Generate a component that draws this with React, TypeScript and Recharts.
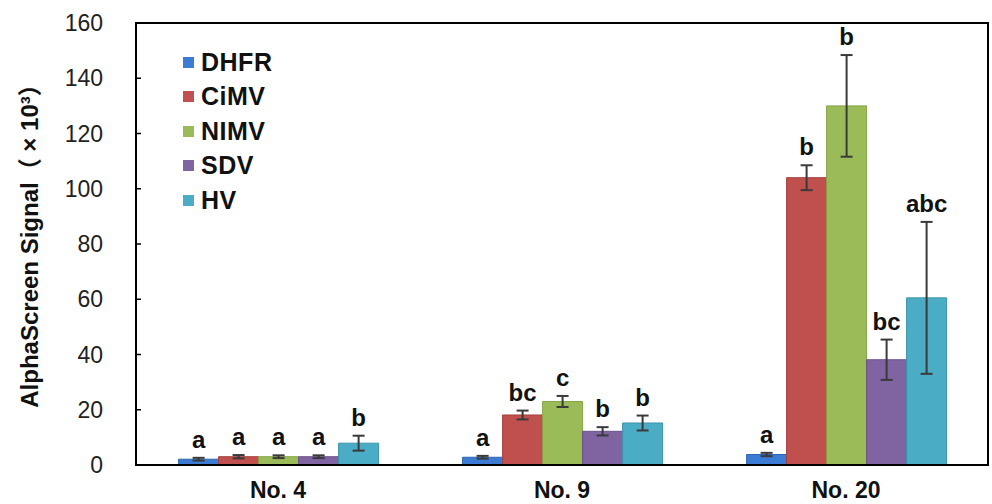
import React from 'react';
import { BarChart, Bar, XAxis, YAxis, ErrorBar, Legend, LabelList, ReferenceArea } from 'recharts';

const categories = ['No. 4', 'No. 9', 'No. 20'];
const seriesNames = ['DHFR', 'CiMV', 'NIMV', 'SDV', 'HV'];

const dhfrValues = [2.1, 2.8, 3.8];
const dhfrErrors = [0.5, 0.5, 0.6];
const dhfrLetters = ['a', 'a', 'a'];

const cimvValues = [3.0, 18.1, 104];
const cimvErrors = [0.6, 1.6, 4.5];
const cimvLetters = ['a', 'bc', 'b'];

const nimvValues = [3.0, 23.0, 130];
const nimvErrors = [0.5, 2.0, 18.4];
const nimvLetters = ['a', 'c', 'b'];

const sdvValues = [3.0, 12.2, 38.1];
const sdvErrors = [0.5, 1.5, 7.3];
const sdvLetters = ['a', 'b', 'bc'];

const hvValues = [7.9, 15.2, 60.5];
const hvErrors = [2.7, 2.7, 27.5];
const hvLetters = ['b', 'b', 'abc'];

const yTicks = [0, 20, 40, 60, 80, 100, 120, 140, 160];

const FONT = '"Liberation Sans", Arial, Helvetica, "Noto Sans CJK SC", sans-serif';

const series = [
  { key: 'dhfr', name: seriesNames[0], values: dhfrValues, errors: dhfrErrors, letters: dhfrLetters, fill: '#3b7bd4', stroke: '#2f64ad' },
  { key: 'cimv', name: seriesNames[1], values: cimvValues, errors: cimvErrors, letters: cimvLetters, fill: '#c0504d', stroke: '#a33f3c' },
  { key: 'nimv', name: seriesNames[2], values: nimvValues, errors: nimvErrors, letters: nimvLetters, fill: '#9bbb59', stroke: '#86a347' },
  { key: 'sdv', name: seriesNames[3], values: sdvValues, errors: sdvErrors, letters: sdvLetters, fill: '#8064a2', stroke: '#6a528a' },
  { key: 'hv', name: seriesNames[4], values: hvValues, errors: hvErrors, letters: hvLetters, fill: '#4bacc6', stroke: '#3a93ab' },
];

const data = categories.map((category, i) => {
  const row: Record<string, any> = { category };
  series.forEach((s) => {
    row[s.key] = s.values[i];
    row[s.key + 'Err'] = s.errors[i];
  });
  return row;
});

const makeLetterLabel = (letters: string[], errors: number[]) => (props: any) => {
  const vb = props.viewBox || {};
  const x = vb.x ?? props.x;
  const y = vb.y ?? props.y;
  const width = vb.width ?? props.width;
  const height = Math.abs(vb.height ?? props.height);
  const value = Number(props.value);
  const index = props.index;
  if (index == null || !value) return null;
  const pxPerUnit = height / value;
  const top = y - errors[index] * pxPerUnit;
  return (
    <text
      x={x + width / 2}
      y={top - 10}
      textAnchor="middle"
      fontFamily={FONT}
      fontWeight="bold"
      fontSize={24}
      fill="#111"
    >
      {letters[index]}
    </text>
  );
};

const YTick = (props: any) => {
  const { x, y, payload } = props;
  return (
    <g>
      <line x1={x} x2={x + 5} y1={y} y2={y} stroke="#000" strokeWidth={1.5} />
      <text x={x - 33} y={y} textAnchor="end" dominantBaseline="central" fontFamily={FONT} fontSize={23} fill="#222">
        {payload.value}
      </text>
    </g>
  );
};

const XTick = (props: any) => {
  const { x, y, payload } = props;
  return (
    <text x={x} y={y} textAnchor="middle" dominantBaseline="central" fontFamily={FONT} fontWeight="bold" fontSize={23} fill="#111">
      {payload.value}
    </text>
  );
};

const YLabel = (props: any) => {
  const vb = props.viewBox || { x: 0, y: 0, width: 0, height: 0 };
  const cx = vb.x + 29;
  const cy = vb.y + vb.height / 2 - 4;
  return (
    <text
      x={cx}
      y={cy}
      transform={`rotate(-90, ${cx}, ${cy})`}
      textAnchor="middle"
      dominantBaseline="central"
      fontFamily={FONT}
      fontWeight="bold"
      fontSize={24}
      fill="#111"
    >
      AlphaScreen Signal（ × 10³）
    </text>
  );
};

const LegendContent = () => (
  <div style={{ fontFamily: FONT, fontWeight: 'bold', fontSize: 25, color: '#111', width: 150, letterSpacing: 0.5 }}>
    {series.map((s) => (
      <div key={s.key} style={{ display: 'flex', alignItems: 'center', height: 34.5 }}>
        <span style={{ display: 'inline-block', width: 11, height: 11, background: s.fill, marginRight: 7 }} />
        <span>{s.name}</span>
      </div>
    ))}
  </div>
);

export default function App() {
  return (
    <div style={{ position: 'absolute', left: 0, top: 0, width: 992, height: 504, background: '#fff' }}>
      <BarChart
        width={992}
        height={504}
        data={data}
        margin={{ top: 23, right: 4, bottom: 0, left: 0 }}
        barCategoryGap="15%"
        barGap={0}
      >
        <XAxis
          dataKey="category"
          height={39}
          tickLine={false}
          tickSize={0}
          tickMargin={25}
          axisLine={{ stroke: '#000', strokeWidth: 2 }}
          tick={<XTick />}
        />
        <YAxis
          width={136}
          domain={[0, 160]}
          ticks={yTicks}
          interval={0}
          tickSize={0}
          tickMargin={0}
          tickLine={false}
          axisLine={{ stroke: '#000', strokeWidth: 2 }}
          tick={<YTick />}
          label={<YLabel />}
        />
        <ReferenceArea y1={0} y2={160} fill="none" fillOpacity={0} stroke="#000" strokeWidth={2} ifOverflow="visible" />
        <Legend
          layout="vertical"
          align="center"
          verticalAlign="top"
          wrapperStyle={{ position: 'absolute', left: 183, top: 45, width: 0, height: 0, overflow: 'visible' }}
          content={<LegendContent />}
        />
        {series.map((s) => (
          <Bar
            key={s.key}
            dataKey={s.key}
            name={s.name}
            fill={s.fill}
            stroke={s.stroke}
            strokeWidth={1}
            isAnimationActive={false}
          >
            <ErrorBar dataKey={s.key + 'Err'} width={6} stroke="#3a3a3a" strokeWidth={2} />
            <LabelList dataKey={s.key} content={makeLetterLabel(s.letters, s.errors)} />
          </Bar>
        ))}
      </BarChart>
    </div>
  );
}
